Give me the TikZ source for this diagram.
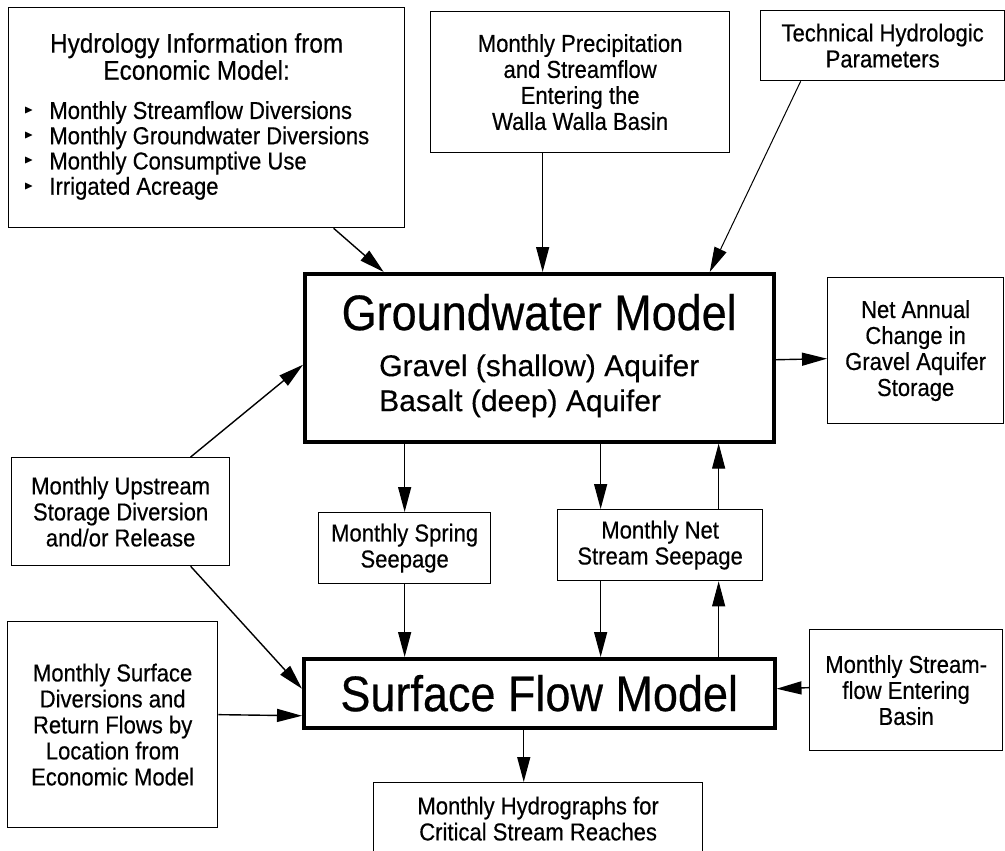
\documentclass[tikz,border=0pt]{standalone}
\usepackage{amssymb}
\usepackage{fontspec}
\setmainfont[FakeStretch=0.9,FakeBold=0.4]{Liberation Sans}
\newfontfamily\aquiferfont[FakeBold=0.3]{Liberation Sans}
\usetikzlibrary{arrows.meta}
\newcommand{\listmark}{\raisebox{5.5pt}{\fontsize{12}{12}\selectfont$\blacktriangleright$}}

\begin{document}
\begin{tikzpicture}[x=1pt,y=-1pt,
  box/.style={draw,line width=1.3pt,align=center,inner sep=0pt,anchor=north west,font=\fontsize{24.5}{26}\selectfont},
  model/.style={draw,line width=3.5pt,align=center,inner sep=0pt,anchor=north west,font=\fontsize{50}{46}\selectfont},
  arr/.style={-{Triangle[length=25pt,width=13pt]},line width=1.4pt},
  thinarr/.style={arr,line width=1pt}]
\useasboundingbox (0,0) rectangle (1005,851);
\clip (0,0) rectangle (1005,851);
\node[box,minimum width=396pt,minimum height=220pt,font=\fontsize{24.5}{25}\selectfont] (hydro) at (8,7) {%
\begin{tabular}{@{}l@{\hspace{16pt}}l@{}}
\multicolumn{2}{c}{\fontsize{27}{25}\selectfont Hydrology Information from\hspace{50pt}}\\
\multicolumn{2}{c}{\fontsize{27}{25}\selectfont Economic Model:\hspace{50pt}}\\[14pt]
\listmark & Monthly Streamflow Diversions\\
\listmark & Monthly Groundwater Diversions\\
\listmark & Monthly Consumptive Use\\
\listmark & Irrigated Acreage
\end{tabular}\hspace{20pt}};
\node[box,minimum width=299pt,minimum height=141pt] (precip) at (430,11) {Monthly Precipitation\\and Streamflow\\Entering the\\Walla Walla Basin};
\node[box,minimum width=244pt,minimum height=70pt] (tech) at (760,10) {Technical Hydrologic\\Parameters};
\node[model,minimum width=469pt,minimum height=168pt] (gw) at (303,272) {Groundwater Model\\
{\aquiferfont\fontsize{30}{35}\selectfont\begin{tabular}[t]{@{}l@{}}Gravel (shallow) Aquifer\\Basalt (deep) Aquifer\end{tabular}}};
\node[box,minimum width=176pt,minimum height=146pt] (annual) at (827,277) {Net Annual\\Change in\\Gravel Aquifer\\Storage};
\node[box,minimum width=218pt,minimum height=108pt] (upstream) at (11,457) {Monthly Upstream\\Storage Diversion\\and/or Release};
\node[box,minimum width=172pt,minimum height=71pt] (spring) at (318,512) {Monthly Spring\\Seepage};
\node[box,minimum width=205pt,minimum height=71pt] (net) at (557,509) {Monthly Net\\Stream Seepage};
\node[box,minimum width=210pt,minimum height=206pt] (divers) at (7,621) {Monthly Surface\\Diversions and\\Return Flows by\\Location from\\Economic Model};
\node[model,minimum width=471pt,minimum height=69pt] (surf) at (302,657) {Surface Flow Model};
\node[box,minimum width=193pt,minimum height=121pt] (stream) at (809,629) {Monthly Stream-\\flow Entering\\Basin};
\node[box,minimum width=329pt,minimum height=72pt] (graphs) at (373,782) {Monthly Hydrographs for\\Critical Stream Reaches};

\draw[arr] ([xshift=127pt]hydro.south) -- ([xshift=-155.5pt]gw.north);
\draw[arr] ([xshift=-37.5pt]precip.south) -- ([xshift=-37.5pt]precip.south |- gw.north);
\draw[thinarr] ([xshift=-82pt]tech.south) -- ([xshift=170.5pt]gw.north);
\draw[arr] ([yshift=-2pt]gw.east) -- ([yshift=-8pt]annual.west);
\draw[arr] ([xshift=70pt]upstream.north) -- ([yshift=-7pt]gw.west);
\draw[arr] ([xshift=70pt]upstream.south) -- ([yshift=4.5pt]surf.west);
\draw[arr] ([yshift=10pt]divers.east) -- ([yshift=-22.5pt]surf.west);
\draw[arr] ([yshift=2.5pt]stream.west) -- ([yshift=4.5pt]surf.east);
\draw[arr] (spring.north |- gw.south) -- (spring.north);
\draw[arr] (spring.south) -- (spring.south |- surf.north);
\draw[arr] ([xshift=-59.5pt]net.north |- gw.south) -- ([xshift=-59.5pt]net.north);
\draw[arr] ([xshift=-59.5pt]net.south) -- ([xshift=-59.5pt]net.south |- surf.north);
\draw[thinarr] ([xshift=58.5pt]net.south |- surf.north) -- ([xshift=58.5pt]net.south);
\draw[thinarr] ([xshift=58.5pt]net.north) -- ([xshift=58.5pt]net.north |- gw.south);
\draw[arr] ([xshift=-15.5pt]surf.south) -- ([xshift=-15.5pt]surf.south |- graphs.north);
\end{tikzpicture}
\end{document}
